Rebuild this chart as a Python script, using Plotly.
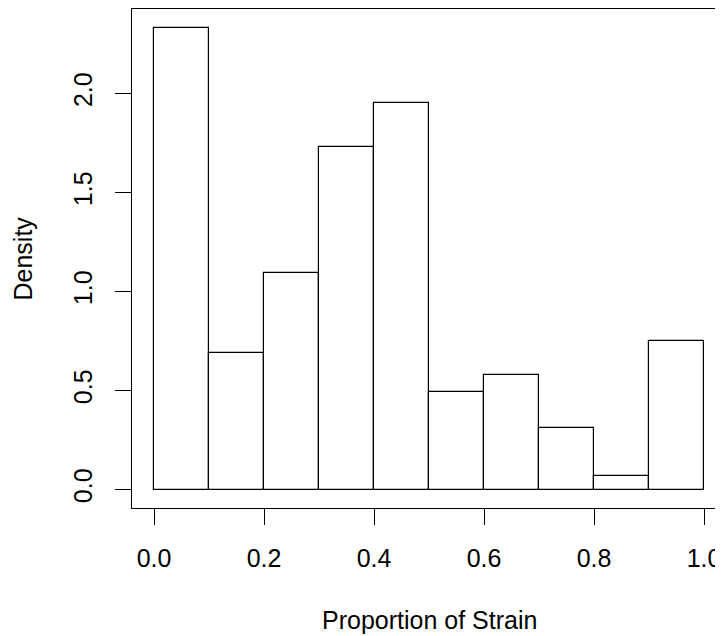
import plotly.graph_objects as go

# Histogram of "Proportion of Strain" (density scale)
bin_left = [0.0, 0.1, 0.2, 0.3, 0.4, 0.5, 0.6, 0.7, 0.8, 0.9]
bin_width = 0.1
density = [2.333, 0.690, 1.091, 1.728, 1.950, 0.491, 0.576, 0.312, 0.066, 0.752]

x_ticks = [0.0, 0.2, 0.4, 0.6, 0.8, 1.0]
y_ticks = [0.0, 0.5, 1.0, 1.5, 2.0]

FONT = "Liberation Sans, Arial, Helvetica, sans-serif"
FS = 25

mids = [b + bin_width / 2 for b in bin_left]

fig = go.Figure()
fig.add_trace(go.Bar(
    x=mids, y=density, width=[bin_width] * len(mids),
    marker=dict(color="white", line=dict(color="black", width=1.2)),
    hoverinfo="x+y", showlegend=False,
))

# page body has an 8px margin, so the figure is 8px smaller than the window
fig.update_layout(
    width=715, height=628,
    margin=dict(l=124, r=0, t=1, b=128, autoexpand=False),
    paper_bgcolor="white", plot_bgcolor="white",
    font=dict(family=FONT, size=FS, color="black"),
    bargap=0,
    annotations=[
        dict(text="Proportion of Strain", xref="x", yref="paper", x=0.5, y=0,
             yshift=-112, showarrow=False, xanchor="center", yanchor="middle",
             font=dict(family=FONT, size=FS, color="black")),
        dict(text="Density", xref="paper", yref="paper", x=0, y=0.5,
             xshift=-110, showarrow=False, xanchor="center", yanchor="middle",
             textangle=-90, font=dict(family=FONT, size=FS, color="black")),
    ],
)

fig.update_xaxes(
    automargin=False,
    range=[-0.04, -0.04 + 591 / 550],
    tickvals=x_ticks, ticktext=[f"{v:.1f}" for v in x_ticks],
    ticks="outside", ticklen=16, tickwidth=1.2, tickcolor="black",
    ticklabelstandoff=12,
    showline=True, linecolor="black", linewidth=1.2, mirror=True,
    showgrid=False, zeroline=False,
    tickfont=dict(family=FONT, size=FS, color="black"),
)
fig.update_yaxes(
    automargin=False,
    range=[-0.0933, 2.4267],
    tickvals=y_ticks, ticktext=[f"{v:.1f}" for v in y_ticks],
    tickangle=-90,
    ticks="outside", ticklen=16, tickwidth=1.2, tickcolor="black",
    ticklabelstandoff=13,
    showline=True, linecolor="black", linewidth=1.2, mirror=False,
    showgrid=False, zeroline=False,
    tickfont=dict(family=FONT, size=FS, color="black"),
)

fig.write_html("out.html")
